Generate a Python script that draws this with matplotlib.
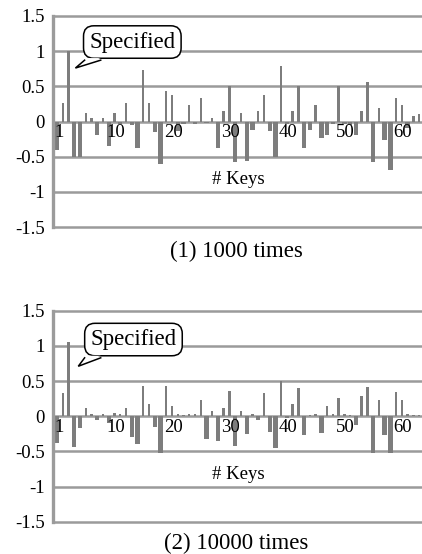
import matplotlib
matplotlib.use("Agg")
import matplotlib.pyplot as plt
from matplotlib.patches import Polygon
import numpy as np

plt.rcParams['font.family'] = ['Liberation Serif', 'DejaVu Serif']

keys = list(range(1, 65))
values_1000 = [-0.40, 0.26, 1.00, -0.50, -0.50, 0.12, 0.05, -0.19, 0.05, -0.35,
               0.12, -0.03, 0.26, -0.05, -0.37, 0.73, 0.26, -0.15, -0.61, 0.43,
               0.37, -0.14, -0.04, 0.23, -0.03, 0.33, -0.02, 0.05, -0.38, 0.15,
               0.50, -0.58, 0.12, -0.56, -0.12, 0.15, 0.37, -0.14, -0.50, 0.79,
               -0.03, 0.15, 0.50, -0.37, -0.12, 0.23, -0.23, -0.19, -0.03, 0.50,
               -0.03, -0.05, -0.19, 0.15, 0.56, -0.57, 0.19, -0.26, -0.69, 0.33,
               0.23, -0.09, 0.08, 0.11]
values_10000 = [-0.38, 0.33, 1.05, -0.44, -0.17, 0.11, 0.03, -0.05, 0.03, -0.10,
                0.04, 0.03, 0.11, -0.30, -0.40, 0.43, 0.18, -0.15, -0.52, 0.43,
                0.15, 0.03, 0.02, 0.03, 0.03, 0.23, -0.32, 0.08, -0.35, 0.11,
                0.36, -0.42, 0.08, -0.25, 0.03, -0.05, 0.33, -0.22, -0.45, 0.50,
                -0.03, 0.18, 0.40, -0.27, 0.02, 0.03, -0.24, 0.14, 0.03, 0.26,
                0.03, 0.02, -0.13, 0.29, 0.41, -0.53, 0.23, -0.27, -0.53, 0.34,
                0.23, 0.03, 0.02, 0.01]
xtick_keys = [1, 10, 20, 30, 40, 50, 60]
yticks = [-1.5, -1, -0.5, 0, 0.5, 1, 1.5]
ytick_labels = ["-1.5", "-1", "-0.5", "0", "0.5", "1", "1.5"]
captions = ["(1) 1000 times", "(2) 10000 times"]

W, H = 422, 554
fig = plt.figure(figsize=(W / 100, H / 100), dpi=100)

grid_col = "#9b9b9b"
bar_col = "#7d7d7d"


def draw(ax_rect, vals, caption, cap_y, box_xy, tip_xy, base_y):
    ax = fig.add_axes(ax_rect)
    ax.set_xlim(0.3, 64.5)
    ax.set_ylim(-1.5, 1.5)
    for y in yticks:
        ax.axhline(y, color=grid_col, lw=1.8, zorder=1, clip_on=False)
    v = np.array(vals)
    widths = np.where(v >= 0, 0.42, 0.75)
    ax.bar(keys, vals, width=widths, color=bar_col, zorder=2)
    for s in ["top", "right", "bottom"]:
        ax.spines[s].set_visible(False)
    ax.spines["left"].set_color(grid_col)
    ax.spines["left"].set_linewidth(2.4)
    ax.set_xticks([])
    ax.set_yticks(yticks)
    ax.set_yticklabels(ytick_labels, fontsize=13.5)
    ax.tick_params(axis="y", length=0, pad=6)
    for k in xtick_keys:
        ax.text(k - 0.45, -0.04, str(k), ha="left", va="top", fontsize=13.5, zorder=3)
    ax.text(32.5, -0.83, "# Keys", ha="center", va="center", fontsize=13.5)
    # callout box
    ax.text(box_xy[0], box_xy[1], "Specified", ha="center", va="center", fontsize=16.5,
            bbox=dict(boxstyle="round,pad=0.25,rounding_size=0.45", fc="white",
                      ec="black", lw=1.1), zorder=5)
    # callout tail
    b0, b1 = 5.8, 8.6
    ax.add_patch(Polygon([(b0, base_y + 0.03), (b1, base_y + 0.03), tip_xy],
                         closed=True, fc="white", ec="none", zorder=6))
    ax.plot([b0, tip_xy[0], b1], [base_y, tip_xy[1], base_y], color="black",
            lw=1.1, zorder=7, solid_joinstyle="miter")
    fig.text(236 / W, 1 - cap_y / H, caption, ha="center", va="center", fontsize=16.5)
    return ax


left = 53 / W
width = (W - 53) / W
draw([left, 1 - 227 / H, width, 211 / H], values_1000, captions[0], 251,
     (14.1, 1.13), (4.2, 0.76), 0.872)
draw([left, 1 - 521.7 / H, width, 211 / H], values_10000, captions[1], 543,
     (14.3, 1.09), (4.7, 0.71), 0.83)

fig.savefig("out.png", dpi=100)
